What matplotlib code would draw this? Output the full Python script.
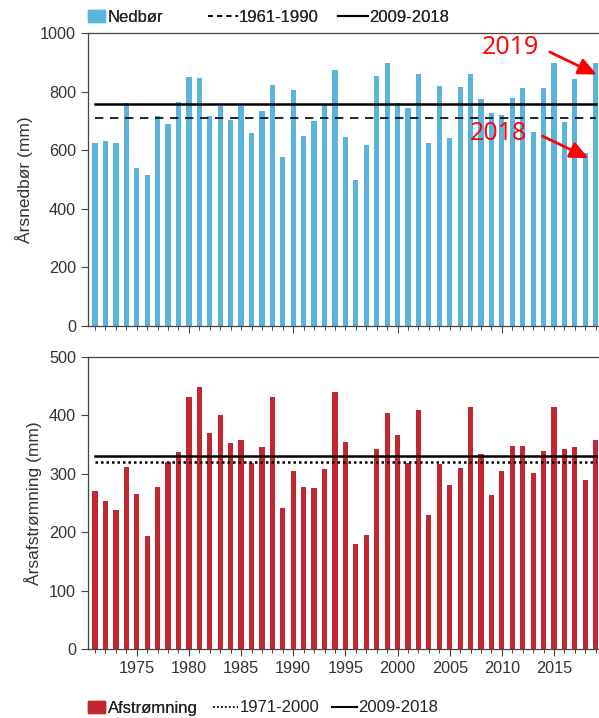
import matplotlib
matplotlib.use("Agg")
import matplotlib.pyplot as plt
from matplotlib.patches import Patch
from matplotlib.lines import Line2D
from matplotlib.ticker import MultipleLocator

plt.rcParams['font.family'] = ['Liberation Sans', 'DejaVu Sans']

years = list(range(1971, 2020))

# årsnedbør (mm)
nedbor = [623, 631, 626, 762, 538, 514, 718, 688, 766, 851,
          847, 717, 752, 703, 751, 658, 734, 823, 576, 805,
          648, 700, 754, 874, 646, 498, 618, 853, 899, 762,
          745, 859, 626, 820, 643, 817, 860, 774, 726, 719,
          777, 813, 661, 811, 897, 695, 843, 592, 899]

# årsafstrømning (mm)
afstrom = [270, 253, 238, 312, 266, 194, 278, 320, 337, 432,
           448, 369, 400, 353, 357, 318, 345, 432, 241, 304,
           278, 275, 308, 440, 354, 180, 195, 343, 404, 366,
           319, 409, 230, 317, 280, 310, 415, 334, 264, 305,
           347, 347, 302, 339, 415, 342, 346, 290, 358]

ned_1961_1990 = 710
ned_2009_2018 = 757
afs_1971_2000 = 320
afs_2009_2018 = 331

blue = '#5bb4dc'
red = '#c2262e'

fig = plt.figure(figsize=(5.99, 7.18), dpi=100)
ax1 = fig.add_axes([0.147, 0.546, 0.858, 0.408])
ax2 = fig.add_axes([0.147, 0.096, 0.858, 0.407])

# top panel
ax1.bar(years, nedbor, width=0.5, color=blue)
ax1.plot([years[0], years[-1]], [ned_1961_1990] * 2, color='black', lw=1.2, ls=(0, (5, 4)))
ax1.plot([years[0], years[-1]], [ned_2009_2018] * 2, color='black', lw=1.8)
ax1.set_ylim(0, 1000)
ax1.set_yticks([0, 200, 400, 600, 800, 1000])
ax1.set_ylabel('Årsnedbør (mm)', fontsize=12.5, color='#333333', labelpad=5)
ax1.tick_params(axis='x', labelbottom=False)

# bottom panel
ax2.bar(years, afstrom, width=0.5, color=red)
ax2.plot([years[0], years[-1]], [afs_1971_2000] * 2, color='black', lw=1.8, ls=(0, (1, 1.2)))
ax2.plot([years[0], years[-1]], [afs_2009_2018] * 2, color='black', lw=1.8)
ax2.set_ylim(0, 500)
ax2.set_yticks([0, 100, 200, 300, 400, 500])
ax2.set_ylabel('Årsafstrømning (mm)', fontsize=12.5, color='#333333', labelpad=5)
ax2.set_xticks([1975, 1980, 1985, 1990, 1995, 2000, 2005, 2010, 2015])

for ax in (ax1, ax2):
    ax.set_xlim(1970.33, 2019.6)
    ax.xaxis.set_minor_locator(MultipleLocator(1))
    ax.tick_params(axis='both', which='major', direction='out', length=5,
                   width=0.8, labelsize=11.7, labelcolor='#333333', color='#444444')
    ax.tick_params(axis='x', which='minor', direction='out', length=3,
                   width=0.7, color='#444444')
    for s in ax.spines.values():
        s.set_color('#444444')
        s.set_linewidth(0.9)

# legends: square patch in one legend, the two lines in another
leg_kw = dict(frameon=False, fontsize=12, borderpad=0, borderaxespad=0,
              labelcolor='#222222')
fig.add_artist(fig.legend([Patch(color=blue)], ['Nedbør'], loc='center left',
                          bbox_to_anchor=(88 / 599, 1 - 17 / 718),
                          handlelength=1.0, handletextpad=0.2, **leg_kw))
fig.add_artist(fig.legend([Line2D([], [], color='black', lw=1.2, ls=(0, (3, 2.5))),
                           Line2D([], [], color='black', lw=1.5)],
                          ['1961-1990', '2009-2018'], loc='center left',
                          bbox_to_anchor=(208 / 599, 1 - 17 / 718), ncol=2,
                          handlelength=1.8, handletextpad=0.05, columnspacing=1.15,
                          **leg_kw))
fig.add_artist(fig.legend([Patch(color=red)], ['Afstrømning'], loc='center left',
                          bbox_to_anchor=(88 / 599, 1 - 708 / 718),
                          handlelength=1.0, handletextpad=0.2, **leg_kw))
fig.legend([Line2D([], [], color='black', lw=1.3, ls=(0, (1, 1.2))),
            Line2D([], [], color='black', lw=1.5)],
           ['1971-2000', '2009-2018'], loc='center left',
           bbox_to_anchor=(213 / 599, 1 - 708 / 718), ncol=2,
           handlelength=1.5, handletextpad=0.1, columnspacing=0.75, **leg_kw)

# annotations
arrow = dict(arrowstyle='-|>,head_length=1.1,head_width=0.5', color='red', lw=2,
             shrinkA=0, shrinkB=0)
ax1.text(2010.8, 950, '2019', color='red', fontsize=18, ha='center', va='center',
         family=['Open Sans', 'DejaVu Sans'])
ax1.annotate('', xy=(2019.1, 858), xytext=(2014.6, 935), arrowprops=arrow)
ax1.text(2009.7, 656, '2018', color='red', fontsize=18, ha='center', va='center',
         family=['Open Sans', 'DejaVu Sans'])
ax1.annotate('', xy=(2018.3, 573), xytext=(2013.9, 648), arrowprops=arrow)

fig.savefig('out.png', dpi=100)
